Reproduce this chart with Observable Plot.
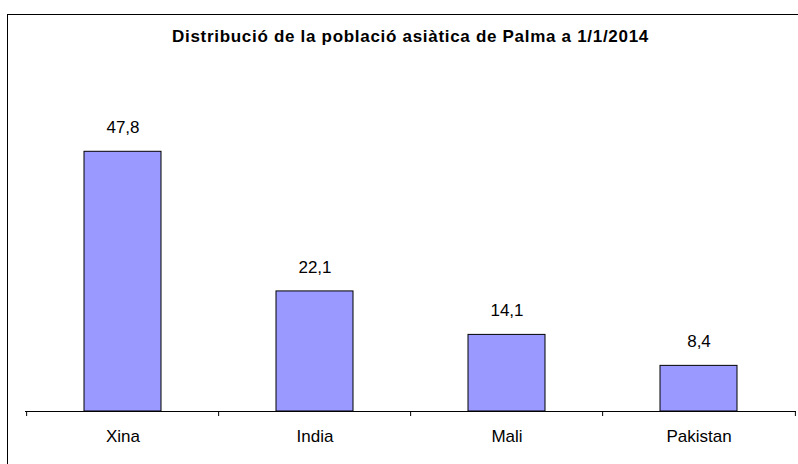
<!DOCTYPE html>
<html>
<head>
<meta charset="utf-8">
<script src="https://cdn.jsdelivr.net/npm/d3@7"></script>
<script src="https://cdn.jsdelivr.net/npm/@observablehq/plot@0.6"></script>
<style>
  html, body { margin: 0; padding: 0; background: #fff; }
  #wrap { position: relative; width: 798px; height: 464px; overflow: hidden; font-family: "Liberation Sans", Arial, sans-serif; }
  #frame { position: absolute; left: 7px; top: 14px; width: 820px; height: 480px; border: 1px solid #000; box-sizing: border-box; }
  #title { position: absolute; left: 25px; width: 771px; top: 27px; text-align: center; font-weight: bold; font-size: 17px; letter-spacing: 0.7px; line-height: 20px; color: #000; }
  #chart { position: absolute; left: 0; top: 0; }
</style>
</head>
<body>
<div id="wrap">
  <div id="frame"></div>
  <div id="chart"></div>
  <div id="title">Distribució de la població asiàtica de Palma a 1/1/2014</div>
</div>
<script>
const categories = ["Xina", "India", "Mali", "Pakistan"];
const values = [47.8, 22.1, 14.1, 8.4];
const title = "Distribució de la població asiàtica de Palma a 1/1/2014";

const data = categories.map((c, i) => ({country: c, value: values[i]}));
const fmt = v => v.toFixed(1).replace(".", ",");

const W = 798, H = 464;
const mL = 25, mR = 2;
const step = (W - mL - mR) / 4;

const plot = Plot.plot({
  width: W,
  height: H,
  marginLeft: mL,
  marginRight: mR,
  marginTop: 85,
  marginBottom: 53,
  style: {fontFamily: "'Liberation Sans', Arial, sans-serif", fontSize: "17px", background: "transparent", color: "#000"},
  x: {domain: categories, paddingInner: 0.6, paddingOuter: 0.3, label: null},
  y: {domain: [0, 60], axis: null},
  marks: [
    Plot.barY(data, {x: "country", y: "value", fill: "#9999FF", stroke: "#000", strokeWidth: 1}),
    Plot.text(data, {x: "country", y: "value", text: d => fmt(d.value), dy: -24, fontSize: 17, fill: "#000"}),
    Plot.ruleY([0], {stroke: "#000", strokeWidth: 1}),
    Plot.ruleX(categories, {x: d => d, y1: 0, y2: 0, dx: -step / 2, insetBottom: -5, stroke: "#000", strokeWidth: 1}),
    Plot.ruleX(categories.slice(-1), {x: d => d, y1: 0, y2: 0, dx: step / 2, insetBottom: -5, stroke: "#000", strokeWidth: 1}),
    Plot.axisX({tickSize: 0, tickPadding: 18, fontSize: 17, label: null})
  ]
});
document.getElementById("chart").appendChild(plot);
document.getElementById("title").textContent = title;
</script>
</body>
</html>
